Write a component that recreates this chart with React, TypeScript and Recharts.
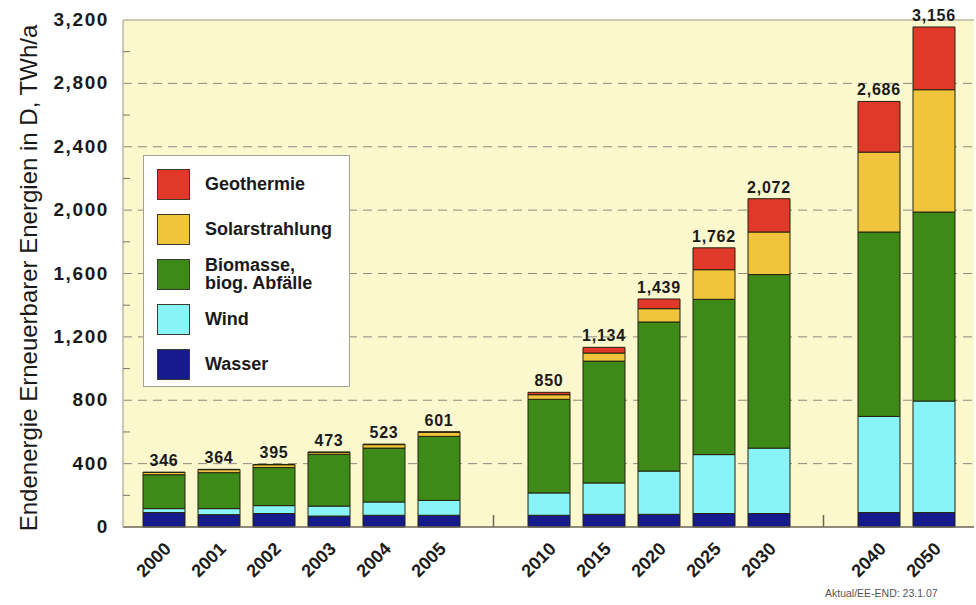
import React from 'react';
import { BarChart, Bar, XAxis, YAxis, CartesianGrid, Legend, LabelList, ReferenceLine } from 'recharts';

const FONT = '"Liberation Sans", Arial, sans-serif';

// '' and ' ' are the two empty slots between the year groups
const YEARS = ['2000', '2001', '2002', '2003', '2004', '2005', '', '2010', '2015', '2020', '2025', '2030', ' ', '2040', '2050'];
const WASSER = [91, 78, 85, 69, 74, 74, null, 74, 80, 80, 85, 85, null, 91, 91];
const WIND = [25, 38, 50, 63, 84, 94, null, 141, 198, 273, 372, 413, null, 607, 704];
const BIOMASSE = [214, 227, 240, 327, 340, 404, null, 591, 769, 941, 980, 1095, null, 1164, 1193];
const SOLAR = [14, 19, 18, 12, 22, 26, null, 29, 51, 84, 187, 269, null, 504, 772];
const GEO = [2, 2, 2, 2, 3, 3, null, 15, 36, 61, 138, 210, null, 320, 396];
const TOTAL = [346, 364, 395, 473, 523, 601, null, 850, 1134, 1439, 1762, 2072, null, 2686, 3156];

const Y_TICKS = [0, 200, 400, 600, 800, 1000, 1200, 1400, 1600, 1800, 2000, 2200, 2400, 2600, 2800, 3000, 3200];
const GRID_VALUES = [400, 800, 1200, 1600, 2000, 2400, 2800];

const SERIES = [
  { key: 'wasser', name: 'Wasser', color: '#151a8c' },
  { key: 'wind', name: 'Wind', color: '#88f4f8' },
  { key: 'biomasse', name: 'Biomasse,\nbiog. Abfälle', color: '#3d8a18' },
  { key: 'solar', name: 'Solarstrahlung', color: '#f0c53c' },
  { key: 'geo', name: 'Geothermie', color: '#e0392a' },
];

const data = YEARS.map((year, i) => ({
  year,
  wasser: WASSER[i],
  wind: WIND[i],
  biomasse: BIOMASSE[i],
  solar: SOLAR[i],
  geo: GEO[i],
  total: TOTAL[i],
}));

const fmt = (v: number) => v.toLocaleString('en-US');

function YTick({ x, y, payload }: any) {
  const v = payload.value as number;
  if (v % 400 !== 0) {
    return <line x1={x + 14} x2={x + 21} y1={y} y2={y} stroke="#77776a" strokeWidth={1} />;
  }
  return (
    <text x={x} y={y} dy={6} textAnchor="end" fontFamily={FONT} fontWeight="bold" fontSize={19} letterSpacing={1.6} fill="#1a1a1a">
      {fmt(v)}
    </text>
  );
}

// only the small separator marks between the groups are drawn as axis ticks
function XTick({ x, y, payload }: any) {
  const v = String(payload.value);
  if (v.trim()) return <g />;
  return <line x1={x} x2={x} y1={y} y2={y - 12} stroke="#6b6656" strokeWidth={1.5} />;
}

// year labels hang under each stack, rotated like the original
function YearLabel({ x, y, width, height, value }: any) {
  if (value == null || !String(value).trim()) return null;
  const tx = Number(x) + Number(width) / 2 + 8;
  const ty = Number(y) + Number(height) + 23;
  return (
    <text
      x={tx}
      y={ty}
      transform={`rotate(-45, ${tx}, ${ty})`}
      textAnchor="end"
      fontFamily={FONT}
      fontWeight="bold"
      fontSize={18}
      fill="#1a1a1a"
    >
      {value}
    </text>
  );
}

function LegendBox() {
  const items = [...SERIES].reverse();
  return (
    <div
      style={{
        position: 'relative',
        width: 207,
        height: 232,
        boxSizing: 'border-box',
        background: '#ffffff',
        border: '1.5px solid #a3a296',
        fontFamily: FONT,
      }}
    >
      {items.map((s, i) => (
        <div key={s.key} style={{ position: 'absolute', left: 13, top: 12 + i * 45, height: 32, display: 'flex', alignItems: 'center' }}>
          <div style={{ width: 33, height: 31, boxSizing: 'border-box', background: s.color, border: '1px solid #3a3a30' }} />
          <div style={{ marginLeft: 15, fontSize: 18, fontWeight: 'bold', color: '#1a1a1a', lineHeight: '18px', whiteSpace: 'pre' }}>
            {s.name}
          </div>
        </div>
      ))}
    </div>
  );
}

export default function App() {
  return (
    <div style={{ position: 'absolute', left: 0, top: 0, width: 976, height: 605, background: '#ffffff' }}>
      <BarChart width={976} height={605} data={data} margin={{ top: 20, right: 2, bottom: 0, left: 0 }} barSize={42}>
        <CartesianGrid
          vertical={false}
          horizontalValues={GRID_VALUES}
          strokeDasharray="9 6"
          stroke="#8c8b7e"
          fill="#fbf8cd"
          fillOpacity={1}
        />
        <ReferenceLine y={3200} stroke="#b9b7a6" strokeWidth={1.5} />
        <XAxis
          dataKey="year"
          height={78}
          interval={0}
          padding={{ left: 13, right: 13 }}
          tickLine={false}
          tickSize={0}
          tickMargin={0}
          tick={<XTick />}
          axisLine={{ stroke: '#6b6656', strokeWidth: 1.5 }}
        />
        <YAxis
          width={123}
          domain={[0, 3200]}
          ticks={Y_TICKS}
          interval={0}
          tickLine={false}
          tickSize={0}
          tickMargin={14}
          tick={<YTick />}
          axisLine={{ stroke: '#b9b7a6', strokeWidth: 1.5 }}
          label={({ viewBox }: any) => (
            <text
              x={(viewBox?.x ?? 0) + 37}
              y={278}
              transform={`rotate(-90 ${(viewBox?.x ?? 0) + 37} 278)`}
              textAnchor="middle"
              fontFamily={FONT}
              fontSize={24}
              fill="#1a1a1a"
            >
              Endenergie Erneuerbarer Energien in D, TWh/a
            </text>
          )}
        />
        {SERIES.map((s) => (
          <Bar key={s.key} dataKey={s.key} name={s.name} stackId="a" fill={s.color} stroke="#24230f" strokeWidth={1} isAnimationActive={false}>
            {s.key === 'wasser' && <LabelList dataKey="year" content={<YearLabel />} />}
            {s.key === 'geo' && (
              <LabelList
                dataKey="total"
                position="top"
                offset={6}
                formatter={(v: any) => (v == null ? '' : fmt(v))}
                fontFamily={FONT}
                fontWeight="bold"
                fontSize={16}
                letterSpacing={0.8}
                fill="#1a1a1a"
              />
            )}
          </Bar>
        ))}
        <Legend
          layout="vertical"
          align="center"
          verticalAlign="middle"
          wrapperStyle={{ position: 'absolute', left: 143, top: 155, width: 207, height: 232 }}
          content={() => <LegendBox />}
        />
      </BarChart>
      <div style={{ position: 'absolute', left: 825, top: 587, fontFamily: FONT, fontSize: 10.5, color: '#555555', whiteSpace: 'nowrap' }}>
        Aktual/EE-END: 23.1.07
      </div>
    </div>
  );
}
